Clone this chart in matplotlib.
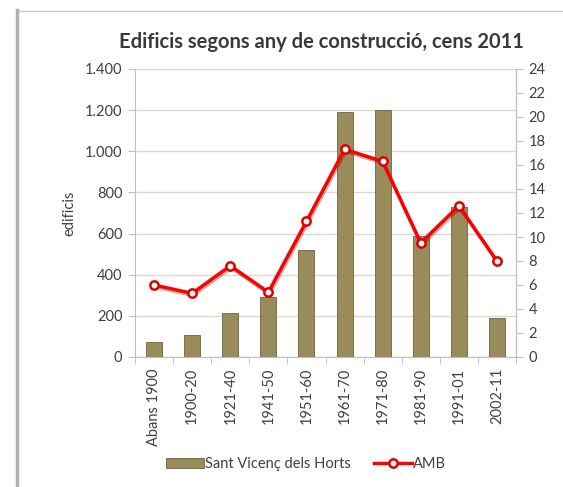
import matplotlib
matplotlib.use("Agg")
import matplotlib.pyplot as plt
from matplotlib.lines import Line2D
import numpy as np

categories = ["Abans 1900", "1900-20", "1921-40", "1941-50", "1951-60",
              "1961-70", "1971-80", "1981-90", "1991-01", "2002-11"]
edificis_svh = [75, 105, 215, 290, 520, 1190, 1200, 590, 730, 190]
amb_pct = [6.0, 5.3, 7.6, 5.4, 11.3, 17.3, 16.3, 9.5, 12.6, 8.0]
left_ticks = [0, 200, 400, 600, 800, 1000, 1200, 1400]
left_tick_labels = ["0", "200", "400", "600", "800", "1.000", "1.200", "1.400"]
right_ticks = list(range(0, 25, 2))

plt.rcParams['font.family'] = ['Lato', 'DejaVu Sans']

W, H = 563, 487
fig = plt.figure(figsize=(W / 100, H / 100), dpi=100)
fig.patch.set_facecolor('white')

# chart frame (top line and left shadow)
fig.add_artist(Line2D([18 / W, 1], [1 - 10.5 / H, 1 - 10.5 / H], color='#c8c8c8', lw=1.0))
fig.add_artist(Line2D([17 / W, 17 / W], [0, 1 - 10 / H], color='#b0b0b0', lw=2.5))

ax = fig.add_axes([135 / W, 1 - 357 / H, (516 - 135) / W, (357 - 69) / H])
x = np.arange(len(categories))
bar_color = '#9a8c5a'
ax.bar(x, edificis_svh, width=0.42, color=bar_color, edgecolor='#6e6238', linewidth=0.6,
       zorder=3, label='Sant Vicenç dels Horts')
ax.set_ylim(0, 1400)
ax.set_xlim(-0.5, len(categories) - 0.5)
ax.set_yticks(left_ticks)
ax.set_yticklabels(left_tick_labels)
ax.grid(axis='y', color='#d9d9d9', lw=1.0, zorder=0)
ax.set_axisbelow(True)
for s in ['top']:
    ax.spines[s].set_visible(False)
for s in ['left', 'right', 'bottom']:
    ax.spines[s].set_color('#bfbfbf')
ax.tick_params(axis='y', length=5, color='#bfbfbf', labelsize=10.5, labelcolor='#404040', pad=4)
ax.set_xticks(x)
ax.set_xticklabels(categories, rotation=90, fontsize=10.5, color='#404040')
ax.tick_params(axis='x', length=0, pad=8)
ax.set_xticks(np.arange(-0.5, len(categories), 1), minor=True)
ax.tick_params(axis='x', which='minor', length=5, color='#bfbfbf')
ax.set_ylabel('edificis', fontsize=10.5, color='#404040', labelpad=6)

ax2 = ax.twinx()
ax2.plot(x, amb_pct, color='#6a1010', lw=2.5, alpha=0.35, zorder=3,
         transform=ax2.transData + matplotlib.transforms.ScaledTranslation(1 / 100, -2 / 100, fig.dpi_scale_trans))
ax2.plot(x, amb_pct, color='#ff0000', lw=2.5, marker='o', markersize=6,
         markerfacecolor='white', markeredgecolor='#e00000', markeredgewidth=1.8,
         zorder=4, label='AMB')
ax2.set_ylim(0, 24)
ax2.set_yticks(right_ticks)
for s in ['top', 'left', 'bottom']:
    ax2.spines[s].set_visible(False)
ax2.spines['right'].set_color('#bfbfbf')
ax2.tick_params(axis='y', length=5, color='#bfbfbf', labelsize=10.5, labelcolor='#404040', pad=4)

fig.text(321 / W, 1 - 42 / H, 'Edificis segons any de construcció, cens 2011',
         ha='center', va='center', fontsize=14.5, fontweight='bold', color='#3a3a3a')

h1 = matplotlib.patches.Patch(facecolor=bar_color, edgecolor='#6e6238', lw=0.6)
h2 = Line2D([], [], color='#ff0000', lw=2.5, marker='o', markersize=6,
            markerfacecolor='white', markeredgecolor='#e00000', markeredgewidth=1.8)
fig.legend([h1, h2], ['Sant Vicenç dels Horts', 'AMB'], loc='center',
           bbox_to_anchor=(306 / W, 1 - 464 / H), ncol=2, frameon=False,
           fontsize=10.5, labelcolor='#404040', handlelength=2.6, handletextpad=0.1,
           columnspacing=1.6)

fig.savefig('out.png', dpi=100, facecolor='white')
